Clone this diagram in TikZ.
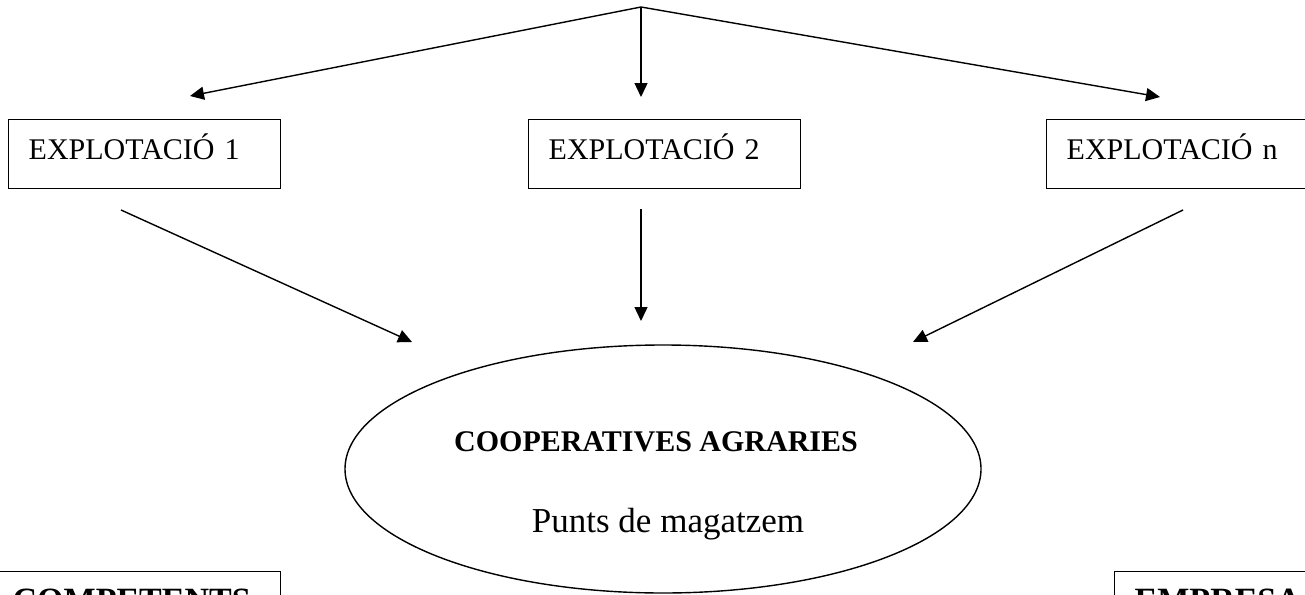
\documentclass[tikz,border=0pt]{standalone}
\usepackage{fontspec}
\setmainfont{Liberation Serif}
\usetikzlibrary{arrows.meta,shapes.geometric}
\begin{document}
\begin{tikzpicture}[x=1pt,y=-1pt,line width=1.4pt,>={Triangle[length=14pt,width=13pt]},
    box/.style={draw,anchor=north west,inner xsep=20pt,inner ysep=0pt,text height=40pt,text depth=29pt,align=left,font=\fontsize{30}{36}\selectfont},
    boldbox/.style={box,text height=39.5pt,text depth=60pt,font=\fontsize{34}{40}\selectfont\bfseries}]
    \useasboundingbox (0,0) rectangle (1305,594);
    \clip (0,0) rectangle (1305,594);
    \fill[white] (0,0) rectangle (1305,594);
    % explotacions
    \node[box,text width=232pt] (ex1) at (8,119) {EXPLOTACIÓ 1};
    \node[box,text width=232pt] (ex2) at (528,119) {EXPLOTACIÓ 2};
    \node[box,text width=232pt] (exn) at (1046,119) {EXPLOTACIÓ n};
    % cooperatives
    \node[draw,ellipse,minimum width=636pt,minimum height=248pt,inner sep=0pt] (coop) at (663,469) {};
    \node[anchor=base,font=\fontsize{30}{36}\selectfont\bfseries] (coopname) at (656,451) {COOPERATIVES AGRARIES};
    \node[anchor=base,font=\fontsize{35}{42}\selectfont] (coopsub) at (668,532) {Punts de magatzem};
    \node[boldbox,text width=248pt] (comp) at (-8,571) {COMPETENTS};
    \node[boldbox,text width=200pt] (emp) at (1114,571) {EMPRESA};
    % fletxes
    \coordinate (top) at (641,7);
    \coordinate (a1) at (190,96);
    \coordinate (a2) at (641,97);
    \coordinate (an) at (1160,97);
    \draw[->] (top)--(a1);
    \draw[->] (top)--(a2);
    \draw[->] (top)--(an);
    \coordinate (b1) at (121,210);
    \coordinate (c1) at (412,342);
    \coordinate (b2) at (641,209);
    \coordinate (c2) at (641,321);
    \coordinate (bn) at (1183,210);
    \coordinate (cn) at (913,342);
    \draw[->] (b1)--(c1);
    \draw[->] (b2)--(c2);
    \draw[->] (bn)--(cn);
\end{tikzpicture}
\end{document}
